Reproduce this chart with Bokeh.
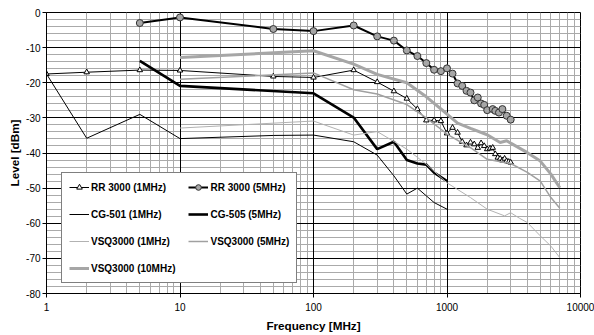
from bokeh.plotting import figure
from bokeh.models import FixedTicker, Grid, Legend, LegendItem, NumeralTickFormatter, Range1d
from bokeh.embed import file_html
from bokeh.resources import INLINE

# ---------------- data ----------------
rr1_freq = [1, 2, 5, 10, 50, 100, 200, 300, 400, 500, 600, 700, 800, 900, 1000,
            1100, 1200, 1300, 1400, 1500, 1600, 1700, 1800, 1900, 2000,
            2100, 2200, 2300, 2400, 2500, 2600, 2700, 2800, 2900, 3000]
rr1_level = [-17.5, -17.0, -16.4, -16.5, -18.2, -18.5, -16.4,
             -19.8, -22.4, -24.5, -27.5, -30.7, -30.7, -30.9, -34.4,
             -32.8, -34.2, -36.8, -37.8, -37.0, -37.5, -38.5, -37.2, -38.0, -38.9,
             -38.7, -38.5, -40.3, -41.3, -41.6, -42.1, -41.6, -42.3, -42.5, -42.7]

rr5_freq = [5, 10, 50, 100, 200, 300, 400, 500, 600, 700, 800, 900, 1000,
            1100, 1200, 1300, 1400, 1500, 1600, 1700, 1800, 1900, 2000,
            2200, 2300, 2450, 2600, 2800, 3000]
rr5_level = [-3.0, -1.4, -4.7, -5.3, -3.7, -6.8, -8.0, -10.8, -12.4, -14.4, -16.3, -16.7, -15.9,
             -17.4, -20.2, -20.9, -22.3, -22.8, -25.0, -24.2, -25.9, -26.3, -27.8,
             -27.5, -28.0, -28.5, -27.5, -29.4, -30.5]

cg501_freq = [1, 2, 5, 10, 50, 100, 200, 300, 400, 500, 600, 800, 1000]
cg501_level = [-17.5, -35.8, -29.0, -35.9, -35.0, -34.9, -36.8, -40.6, -46.5, -51.7, -50.0, -54.1, -56.0]

cg505_freq = [5, 10, 100, 200, 300, 400, 500, 600, 700, 800, 1000]
cg505_level = [-13.8, -20.9, -23.0, -29.9, -38.9, -36.8, -42.0, -43.0, -43.3, -45.6, -48.0]

vsq1_freq = [10, 100, 200, 300, 500, 700, 1000, 1500, 2000, 2700, 3000, 3500, 4000, 5000, 6000, 7000]
vsq1_level = [-32.9, -30.9, -34.9, -33.9, -38.9, -43.2, -48.5, -52.7, -56.0, -57.9, -57.0, -58.6,
              -59.8, -63.6, -66.5, -69.8]

vsq5_freq = [10, 100, 200, 300, 500, 700, 1000, 1500, 2000, 3000, 4000, 5000, 6000, 7000]
vsq5_level = [-19.0, -17.2, -22.0, -23.2, -26.2, -30.0, -34.6, -38.5, -41.8, -43.0, -45.5, -48.0,
              -52.7, -55.7]

vsq10_freq = [10, 100, 200, 300, 500, 700, 1000, 1200, 1500, 2000, 2500, 2800, 3000, 4000, 5000,
              6000, 7000]
vsq10_level = [-12.8, -10.9, -14.7, -17.6, -20.0, -24.0, -28.9, -31.5, -33.0, -34.8, -37.0, -36.5,
               -37.2, -39.9, -42.3, -46.0, -49.9]

x_major = [1, 10, 100, 1000, 10000]
x_minor = [m * d for d in [1, 10, 100, 1000] for m in range(2, 10)]
y_major = list(range(-80, 1, 10))
y_minor = [v for v in range(-80, 1, 2) if v % 10 != 0]

# ---------------- figure ----------------
FONT = "Liberation Sans"
p = figure(width=594, height=335, x_axis_type="log",
           x_range=Range1d(1, 10000), y_range=Range1d(-80, 0),
           output_backend="svg", toolbar_location=None,
           min_border_left=46, min_border_right=14, min_border_top=12, min_border_bottom=42)
p.center = [r for r in p.center if not isinstance(r, Grid)]
p.outline_line_color = "black"
p.outline_line_width = 1
p.background_fill_color = "white"

minor_color = "#aaaaaa"
gx_min = Grid(dimension=0, ticker=FixedTicker(ticks=x_minor), grid_line_color=minor_color, grid_line_width=1)
gy_min = Grid(dimension=1, ticker=FixedTicker(ticks=y_minor), grid_line_color=minor_color, grid_line_width=1)
gx_maj = Grid(dimension=0, ticker=FixedTicker(ticks=x_major), grid_line_color="black", grid_line_width=1)
gy_maj = Grid(dimension=1, ticker=FixedTicker(ticks=y_major), grid_line_color="black", grid_line_width=1)
for g in (gx_min, gy_min, gx_maj, gy_maj):
    p.add_layout(g)

for ax in (p.xaxis[0], p.yaxis[0]):
    ax.axis_line_color = "black"
    ax.major_tick_line_color = "black"
    ax.major_tick_out = 4
    ax.major_tick_in = 0
    ax.minor_tick_line_color = None
    ax.major_label_text_font = FONT
    ax.major_label_text_font_size = "10px"
    ax.major_label_text_color = "black"
    ax.axis_label_text_font = FONT
    ax.axis_label_text_font_style = "bold"
    ax.axis_label_text_font_size = "11.7px"
    ax.axis_label_text_color = "black"
    ax.formatter = NumeralTickFormatter(format="0")

p.xaxis.ticker = FixedTicker(ticks=x_major)
p.yaxis.ticker = FixedTicker(ticks=y_major)
p.xaxis.major_label_standoff = 5
p.yaxis.major_label_standoff = 2
p.xaxis.axis_label = "Frequency [MHz]"
p.yaxis.axis_label = "Level [dBm]"
p.xaxis.axis_label_standoff = 5
p.yaxis.axis_label_standoff = 2

# ---------------- series ----------------
r_rr1 = p.line(rr1_freq, rr1_level, line_color="black", line_width=1)
m_rr1 = p.scatter(rr1_freq, rr1_level, marker="triangle", size=5.5, fill_color="white",
                  line_color="black", line_width=1)
r_rr5 = p.line(rr5_freq, rr5_level, line_color="black", line_width=2)
m_rr5 = p.scatter(rr5_freq, rr5_level, marker="circle", size=7, fill_color="#a6a6a6",
                  line_color="#333333", line_width=1)
r_cg501 = p.line(cg501_freq, cg501_level, line_color="black", line_width=1)
r_cg505 = p.line(cg505_freq, cg505_level, line_color="black", line_width=2.6)
r_vsq1 = p.line(vsq1_freq, vsq1_level, line_color="#b2b2b2", line_width=1)
r_vsq5 = p.line(vsq5_freq, vsq5_level, line_color="#a0a0a0", line_width=1.5)
r_vsq10 = p.line(vsq10_freq, vsq10_level, line_color="#a6a6a6", line_width=3)

items = [
    LegendItem(label="RR 3000 (1MHz)", renderers=[r_rr1, m_rr1]),
    LegendItem(label="CG-501 (1MHz)", renderers=[r_cg501]),
    LegendItem(label="VSQ3000 (1MHz)", renderers=[r_vsq1]),
    LegendItem(label="VSQ3000 (10MHz)", renderers=[r_vsq10]),
    LegendItem(label="RR 3000 (5MHz)", renderers=[r_rr5, m_rr5]),
    LegendItem(label="CG-505 (5MHz)", renderers=[r_cg505]),
    LegendItem(label="VSQ3000 (5MHz)", renderers=[r_vsq5]),
]
legend = Legend(items=items, location=(15, 10), ncols=2,
                border_line_color="black", border_line_width=1,
                background_fill_color="white", background_fill_alpha=1,
                label_text_font=FONT, label_text_font_style="bold",
                label_text_font_size="10px", label_text_color="black",
                glyph_width=20, glyph_height=14, label_height=14,
                label_standoff=2, spacing=13, padding=7, margin=0)
p.add_layout(legend)

open("out.html", "w").write(file_html(p, INLINE))
